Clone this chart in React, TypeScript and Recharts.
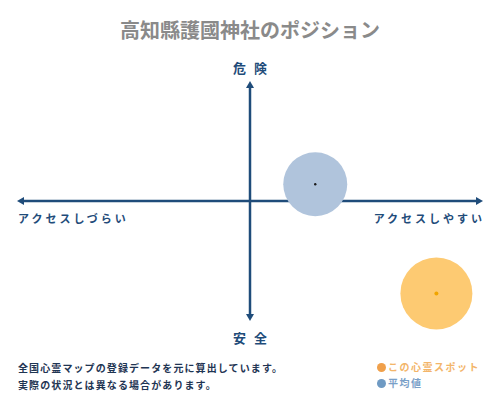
import React from "react";
import {
  ScatterChart,
  Scatter,
  XAxis,
  YAxis,
  ReferenceLine,
} from "recharts";

const TITLE = "高知縣護國神社のポジション";
const AXIS_TOP = "危険";
const AXIS_BOTTOM = "安全";
const AXIS_LEFT = "アクセスしづらい";
const AXIS_RIGHT = "アクセスしやすい";
const NOTES = [
  "全国心霊マップの登録データを元に算出しています。",
  "実際の状況とは異なる場合があります。",
];
const SERIES_NAMES = ["この心霊スポット", "平均値"];

const spotData = [{ x: 8.0, y: -7.7 }];
const averageData = [{ x: 2.8, y: 1.4 }];

const NAVY = "#1f4c7a";
const FONT = "'Noto Sans CJK JP', 'Noto Sans', sans-serif";

const makeBubble = (r: number, fill: string, dotFill: string, dotR: number) =>
  (props: any) => {
    const { cx, cy } = props;
    if (cx == null || cy == null) return <g />;
    return (
      <g>
        <circle cx={cx} cy={cy} r={r} fill={fill} />
        <circle cx={cx} cy={cy} r={dotR} fill={dotFill} />
      </g>
    );
  };

const arrowHead = (tx: number, ty: number, dx: number, dy: number) => {
  const len = 7;
  const hw = 4;
  const bx = tx - dx * len;
  const by = ty - dy * len;
  const px = -dy;
  const py = dx;
  return `${tx},${ty} ${bx + px * hw},${by + py * hw} ${bx - px * hw},${by - py * hw}`;
};

const AxisShape = (kind: "v" | "h") => (props: any) => {
  const { x1, y1, x2, y2 } = props;
  if ([x1, y1, x2, y2].some((v) => v == null || isNaN(v))) return <g />;
  const len = Math.hypot(x2 - x1, y2 - y1) || 1;
  const dx = (x2 - x1) / len;
  const dy = (y2 - y1) / len;
  const labelStyle = {
    fontFamily: FONT,
    fontWeight: 700,
    fill: NAVY,
  } as const;
  return (
    <g>
      <line
        x1={x1 + dx * 4}
        y1={y1 + dy * 4}
        x2={x2 - dx * 4}
        y2={y2 - dy * 4}
        stroke={NAVY}
        strokeWidth={2.5}
      />
      <polygon points={arrowHead(x2, y2, dx, dy)} fill={NAVY} />
      <polygon points={arrowHead(x1, y1, -dx, -dy)} fill={NAVY} />
      {kind === "v" ? (
        <>
          <text
            x={x1 + 4}
            y={Math.min(y1, y2) - 14}
            textAnchor="middle"
            dominantBaseline="central"
            fontSize={13}
            letterSpacing={8}
            style={labelStyle}
          >
            {AXIS_TOP}
          </text>
          <text
            x={x1 + 4}
            y={Math.max(y1, y2) + 16}
            textAnchor="middle"
            dominantBaseline="central"
            fontSize={13}
            letterSpacing={8}
            style={labelStyle}
          >
            {AXIS_BOTTOM}
          </text>
        </>
      ) : (
        <>
          <text
            x={Math.min(x1, x2) + 1}
            y={y1 + 17}
            textAnchor="start"
            dominantBaseline="central"
            fontSize={11}
            letterSpacing={3}
            style={labelStyle}
          >
            {AXIS_LEFT}
          </text>
          <text
            x={Math.max(x1, x2) + 2}
            y={y1 + 17}
            textAnchor="end"
            dominantBaseline="central"
            fontSize={11}
            letterSpacing={3}
            style={labelStyle}
          >
            {AXIS_RIGHT}
          </text>
        </>
      )}
    </g>
  );
};

const LEGEND_DOT = ["#f0a04b", "#6f9ac3"];
const LEGEND_TEXT = ["#f3b56a", "#7aa0c8"];

const LegendBox = () => (
  <div
    style={{
      position: "absolute",
      left: 377,
      top: 359,
      width: 120,
      fontFamily: FONT,
      fontWeight: 700,
      fontSize: 10,
      lineHeight: "16px",
    }}
  >
    {SERIES_NAMES.map((name, i) => (
      <div key={name} style={{ display: "flex", alignItems: "center" }}>
        <span
          style={{
            display: "inline-block",
            width: 9,
            height: 9,
            borderRadius: "50%",
            background: LEGEND_DOT[i],
            marginRight: 2,
          }}
        />
        <span style={{ color: LEGEND_TEXT[i], letterSpacing: 1.5 }}>{name}</span>
      </div>
    ))}
  </div>
);

export default function App() {
  return (
    <div
      style={{
        position: "absolute",
        left: 0,
        top: 0,
        width: 500,
        height: 400,
        background: "#fff",
        overflow: "hidden",
      }}
    >
      <div
        style={{
          position: "absolute",
          top: 16,
          left: 0,
          width: 500,
          textAlign: "center",
          fontFamily: FONT,
          fontWeight: 700,
          fontSize: 20,
          color: "#8a8a8a",
          lineHeight: "28px",
        }}
      >
        {TITLE}
      </div>
      <ScatterChart
        width={500}
        height={400}
        margin={{ top: 81, right: 17, bottom: 79, left: 17 }}
      >
        <XAxis type="number" dataKey="x" domain={[-10, 10]} hide />
        <YAxis type="number" dataKey="y" domain={[-10, 10]} hide />
        <Scatter
          name={SERIES_NAMES[1]}
          data={averageData}
          isAnimationActive={false}
          shape={makeBubble(32, "#b0c4dc", "#1a1a1a", 1.2)}
        />
        <Scatter
          name={SERIES_NAMES[0]}
          data={spotData}
          isAnimationActive={false}
          shape={makeBubble(36, "#fdca72", "#f0a500", 2)}
        />
        <ReferenceLine
          segment={[
            { x: -10, y: 0 },
            { x: 10, y: 0 },
          ]}
          ifOverflow="visible"
          shape={AxisShape("h")}
        />
        <ReferenceLine
          segment={[
            { x: 0, y: 10 },
            { x: 0, y: -10 },
          ]}
          ifOverflow="visible"
          shape={AxisShape("v")}
        />
      </ScatterChart>
      <LegendBox />
      <div
        style={{
          position: "absolute",
          left: 18,
          top: 359,
          fontFamily: FONT,
          fontWeight: 700,
          fontSize: 10,
          letterSpacing: 1.1,
          lineHeight: "17px",
          color: "#1f3553",
        }}
      >
        {NOTES.map((n) => (
          <div key={n}>{n}</div>
        ))}
      </div>
    </div>
  );
}
